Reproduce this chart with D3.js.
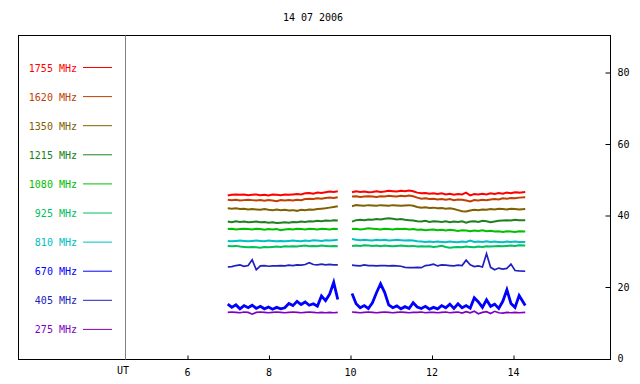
<!DOCTYPE html>
<html>
<head>
<meta charset="utf-8">
<script src="https://cdn.jsdelivr.net/npm/d3@7"></script>
<style>
  body { margin: 0; background: #fff; }
  text { font-family: "DejaVu Sans Mono", monospace; font-size: 10px; }
</style>
</head>
<body>
<div id="chart"></div>
<script>
// Radio flux per frequency, two observing segments (hours UT)
const title = '14 07 2006'
const freqs = ['1755', '1620', '1350', '1215', '1080', '925', '810', '670', '405', '275']
const colors = ['#ff0000', '#c04000', '#806000', '#208020', '#00c000', '#00c060', '#00c0c0', '#0000ff', '#2020c0', '#8000c0']
const xTicks = [6, 8, 10, 12, 14]
const yTicks = [0, 20, 40, 60, 80]

const timesA = [7.0, 7.1, 7.2, 7.3, 7.4, 7.5, 7.6, 7.7, 7.8, 7.9, 8.0, 8.1, 8.2, 8.3, 8.4, 8.5, 8.6, 8.7, 8.8, 8.9, 9.0, 9.1, 9.2, 9.3, 9.4, 9.5, 9.6, 9.7]
const timesB = [10.05, 10.15, 10.25, 10.35, 10.45, 10.55, 10.65, 10.75, 10.85, 10.95, 11.05, 11.15, 11.25, 11.35, 11.45, 11.55, 11.65, 11.75, 11.85, 11.95, 12.05, 12.15, 12.25, 12.35, 12.45, 12.55, 12.65, 12.75, 12.85, 12.95, 13.05, 13.15, 13.25, 13.35, 13.45, 13.55, 13.65, 13.75, 13.85, 13.95, 14.05, 14.15, 14.3]

const flux1755A = [45.6, 45.8, 45.9, 45.8, 45.9, 45.7, 45.8, 45.9, 45.7, 45.8, 45.6, 45.9, 45.8, 45.7, 45.9, 45.8, 45.9, 46.0, 45.9, 46.2, 46.3, 46.1, 46.4, 46.3, 46.5, 46.7, 46.6, 46.8]
const flux1755B = [46.5, 46.8, 46.6, 46.7, 46.5, 46.6, 46.8, 46.6, 46.7, 46.9, 46.8, 46.7, 46.9, 46.8, 47.0, 46.8, 46.4, 46.2, 46.3, 46.1, 46.2, 46.0, 46.2, 45.9, 46.1, 45.8, 46.0, 45.9, 46.4, 45.6, 46.0, 45.9, 46.1, 45.9, 46.2, 46.0, 46.3, 46.1, 46.4, 46.2, 46.5, 46.4, 46.6]
const flux1620A = [44.4, 44.3, 44.4, 44.2, 44.3, 44.4, 44.3, 44.2, 44.3, 44.1, 44.3, 44.2, 44.0, 44.3, 44.2, 44.3, 44.2, 44.4, 44.3, 44.6, 44.7, 44.6, 44.8, 44.7, 44.9, 45.0, 44.9, 45.1]
const flux1620B = [45.3, 45.4, 45.2, 45.3, 45.4, 45.3, 45.2, 45.4, 45.3, 45.5, 45.4, 45.3, 45.5, 45.4, 45.6, 45.4, 45.0, 44.7, 44.8, 44.6, 44.7, 44.5, 44.6, 44.4, 44.6, 44.3, 44.5, 44.4, 44.2, 43.9, 44.3, 44.2, 44.4, 44.3, 44.5, 44.6, 44.5, 44.8, 44.7, 44.9, 44.8, 45.0, 45.1]
const flux1350A = [42.0, 41.9, 42.0, 41.8, 41.9, 41.7, 41.8, 41.7, 41.6, 41.8, 41.6, 41.5, 41.7, 41.5, 41.6, 41.4, 41.5, 41.3, 41.6, 41.5, 41.7, 41.6, 41.8, 41.9, 42.0, 42.2, 42.4, 42.6]
const flux1350B = [42.6, 42.9, 42.8, 42.7, 42.9, 42.8, 42.7, 42.9, 42.8, 42.7, 42.9, 42.8, 42.7, 42.8, 42.9, 42.7, 42.4, 42.2, 42.3, 42.1, 42.2, 42.0, 42.1, 41.9, 42.0, 41.8, 41.5, 41.2, 41.1, 41.4, 41.6, 41.5, 41.7, 41.6, 41.8, 41.7, 41.9, 41.8, 41.7, 41.9, 41.8, 41.7, 41.8]
const flux1215A = [38.3, 38.1, 38.4, 38.2, 38.3, 38.1, 38.2, 38.3, 38.1, 38.2, 38.0, 38.1, 37.9, 38.0, 38.1, 38.0, 38.2, 38.1, 38.3, 38.2, 38.4, 38.3, 38.5, 38.4, 38.6, 38.5, 38.7, 38.6]
const flux1215B = [38.3, 38.7, 38.8, 38.7, 38.9, 38.8, 39.0, 38.9, 39.1, 39.2, 39.1, 38.9, 39.0, 38.8, 38.7, 38.6, 38.4, 38.3, 38.5, 38.2, 38.4, 38.3, 38.2, 38.4, 38.1, 38.3, 38.2, 38.4, 38.0, 38.3, 38.4, 38.2, 38.5, 38.4, 38.1, 38.3, 38.5, 38.6, 38.7, 38.6, 38.8, 38.7, 38.7]
const flux1080A = [36.2, 36.3, 36.1, 36.2, 36.3, 36.2, 36.1, 36.3, 36.2, 36.0, 36.2, 36.1, 36.2, 35.9, 36.1, 36.2, 36.1, 36.3, 36.2, 36.1, 36.3, 36.2, 36.1, 36.3, 36.2, 36.1, 36.3, 36.2]
const flux1080B = [36.2, 36.3, 36.1, 36.2, 36.4, 36.3, 36.2, 36.1, 36.3, 36.2, 36.1, 36.3, 36.2, 36.3, 36.1, 36.2, 36.0, 36.1, 35.9, 36.0, 36.1, 35.9, 36.0, 35.8, 36.0, 35.9, 35.7, 35.9, 35.8, 35.6, 35.8, 35.7, 35.9, 35.6, 35.7, 35.5, 35.6, 35.4, 35.6, 35.5, 35.4, 35.6, 35.5]
const flux925A = [31.5, 31.4, 31.5, 31.3, 31.2, 31.1, 31.2, 31.1, 31.0, 31.2, 31.1, 31.2, 31.3, 31.2, 31.4, 31.3, 31.4, 31.3, 31.5, 31.6, 31.4, 31.5, 31.4, 31.6, 31.5, 31.4, 31.5, 31.4]
const flux925B = [31.5, 31.6, 31.5, 31.7, 31.6, 31.5, 31.6, 31.4, 31.6, 31.5, 31.4, 31.5, 31.6, 31.5, 31.4, 31.5, 31.3, 31.4, 31.3, 31.4, 31.2, 31.3, 31.5, 31.2, 31.0, 31.1, 31.2, 31.1, 31.3, 31.2, 31.1, 31.3, 31.2, 31.4, 31.3, 31.4, 31.5, 31.4, 31.5, 31.6, 31.5, 31.7, 31.6]
const flux810A = [32.9, 32.8, 32.9, 33.0, 32.9, 32.8, 32.9, 33.0, 32.9, 32.8, 33.0, 32.9, 32.8, 32.9, 32.8, 32.9, 33.0, 32.9, 32.8, 33.0, 32.9, 33.1, 33.0, 32.9, 33.1, 33.0, 33.1, 33.2]
const flux810B = [33.4, 33.2, 33.1, 33.2, 33.1, 33.0, 33.2, 33.1, 33.2, 33.0, 33.1, 33.2, 33.1, 33.0, 33.1, 33.0, 32.8, 32.7, 32.6, 32.7, 32.6, 32.7, 32.6, 32.5, 32.7, 32.6, 32.5, 32.7, 32.6, 33.0, 32.6, 32.7, 32.6, 32.8, 32.6, 32.7, 32.6, 32.5, 32.7, 32.6, 32.7, 32.6, 32.6]
const flux670A = [15.2, 14.3, 15.0, 13.9, 14.8, 14.2, 14.9, 14.0, 14.6, 13.9, 14.4, 13.8, 14.3, 13.9, 14.2, 15.4, 14.8, 16.0, 15.1, 15.8, 14.9, 15.3, 14.6, 17.5, 16.2, 18.0, 21.3, 16.5]
const flux670B = [18.2, 15.3, 14.2, 14.8, 14.0, 15.6, 18.4, 20.9, 18.5, 15.0, 14.2, 14.7, 13.9, 14.5, 14.0, 15.6, 14.4, 14.0, 14.6, 13.8, 14.3, 13.9, 14.8, 14.2, 15.2, 14.0, 15.3, 14.2, 14.8, 14.1, 17.0, 15.8, 14.3, 16.4, 14.6, 15.2, 14.0, 16.0, 19.2, 15.4, 14.3, 17.6, 14.8]
const flux405A = [25.6, 25.7, 26.0, 26.2, 25.8, 26.0, 27.6, 24.8, 25.9, 26.0, 25.8, 25.9, 25.9, 26.0, 25.9, 26.1, 26.0, 26.2, 26.1, 26.3, 26.8, 26.3, 26.2, 26.4, 26.2, 26.3, 26.2, 26.2]
const flux405B = [26.1, 26.0, 25.9, 26.2, 26.0, 26.0, 25.9, 26.0, 26.0, 25.9, 26.0, 25.9, 25.8, 25.5, 25.4, 25.4, 25.5, 25.4, 26.0, 26.1, 26.4, 25.9, 26.2, 26.1, 26.0, 25.9, 26.1, 26.0, 27.5, 26.2, 25.7, 25.9, 25.6, 29.3, 25.5, 24.8, 25.3, 25.0, 25.2, 26.4, 24.6, 24.5, 24.4]
const flux275A = [12.9, 13.0, 12.9, 12.8, 13.0, 12.9, 12.4, 12.9, 13.0, 12.9, 12.8, 12.9, 13.0, 12.9, 12.8, 12.9, 13.0, 12.9, 12.8, 12.9, 13.0, 12.9, 12.8, 12.9, 12.8, 12.9, 12.8, 12.9]
const flux275B = [13.0, 12.9, 12.8, 12.9, 13.0, 12.9, 12.8, 12.9, 13.0, 12.9, 12.8, 12.9, 13.0, 12.9, 12.8, 12.9, 12.9, 13.0, 12.8, 12.9, 12.9, 12.8, 12.9, 13.0, 12.8, 12.9, 13.0, 12.7, 13.1, 12.8, 13.2, 12.5, 12.9, 13.1, 12.6, 13.2, 12.8, 12.7, 12.9, 12.8, 12.9, 12.8, 12.9]

const seriesA = [flux1755A, flux1620A, flux1350A, flux1215A, flux1080A, flux925A, flux810A, flux670A, flux405A, flux275A]
const seriesB = [flux1755B, flux1620B, flux1350B, flux1215B, flux1080B, flux925B, flux810B, flux670B, flux405B, flux275B]
// the 670 MHz trace is a thick noisy band in the original
const strokeWidths = [2, 2, 2, 2, 2, 2, 2, 2.8, 1.7, 1.7]

const width = 640
const height = 384
const frame = { left: 18.5, right: 610.5, top: 35.5, bottom: 359.5 }
const utX = 125.5

const svg = d3.select('#chart').append('svg')
  .attr('width', width).attr('height', height)

const x = d3.scaleLinear().domain([6, 14]).range([187, 513])
const y = d3.scaleLinear().domain([0, 80]).range([358.5, 72.5])

// frame
svg.append('rect')
  .attr('x', frame.left).attr('y', frame.top)
  .attr('width', frame.right - frame.left).attr('height', frame.bottom - frame.top)
  .attr('fill', 'none').attr('stroke', '#000')

svg.append('line')
  .attr('x1', utX).attr('x2', utX).attr('y1', frame.top).attr('y2', frame.bottom)
  .attr('stroke', '#808080')

svg.append('text')
  .attr('x', 313).attr('y', 21).attr('text-anchor', 'middle')
  .text(title)

// bottom axis, ticks point inward
const xAxis = svg.append('g')
  .attr('transform', 'translate(0,' + frame.bottom + ')')
  .call(d3.axisBottom(x).tickValues(xTicks).tickSizeInner(-4).tickSizeOuter(0).tickPadding(9))
xAxis.select('.domain').remove()
xAxis.selectAll('line').attr('transform', 'translate(0.5,0)')
xAxis.selectAll('text').attr('font-family', null).attr('font-size', null)

svg.append('text')
  .attr('x', 123).attr('y', 374).attr('text-anchor', 'middle')
  .text('UT')

// right axis, ticks point inward
const yAxis = svg.append('g')
  .attr('transform', 'translate(' + frame.right + ',0)')
  .call(d3.axisRight(y).tickValues(yTicks).tickSizeInner(-5).tickSizeOuter(0).tickPadding(7))
yAxis.select('.domain').remove()
yAxis.selectAll('text').attr('font-family', null).attr('font-size', null)
yAxis.selectAll('.tick').filter(d => d === 0).select('line').remove()

// flux lines
const line = d3.line()
  .x(d => x(d[0]))
  .y(d => y(d[1]))

const plot = svg.append('g')
for (let i = freqs.length - 1; i >= 0; i--) {
  ;[[timesA, seriesA[i]], [timesB, seriesB[i]]].forEach(([t, v]) => {
    plot.append('path')
      .datum(d3.zip(t, v))
      .attr('d', line)
      .attr('fill', 'none')
      .attr('stroke', colors[i])
      .attr('stroke-width', strokeWidths[i])
  })
}

// legend
const legend = svg.append('g')
  .selectAll('g')
  .data(freqs)
  .join('g')
  .attr('transform', (d, i) => 'translate(0,' + (67.5 + i * 29.1) + ')')

legend.append('text')
  .attr('x', 77).attr('y', 4).attr('text-anchor', 'end')
  .attr('fill', (d, i) => colors[i])
  .text(d => d + ' MHz')

legend.append('line')
  .attr('x1', 83).attr('x2', 112).attr('y1', 0).attr('y2', 0)
  .attr('stroke', (d, i) => colors[i])
</script>
</body>
</html>
